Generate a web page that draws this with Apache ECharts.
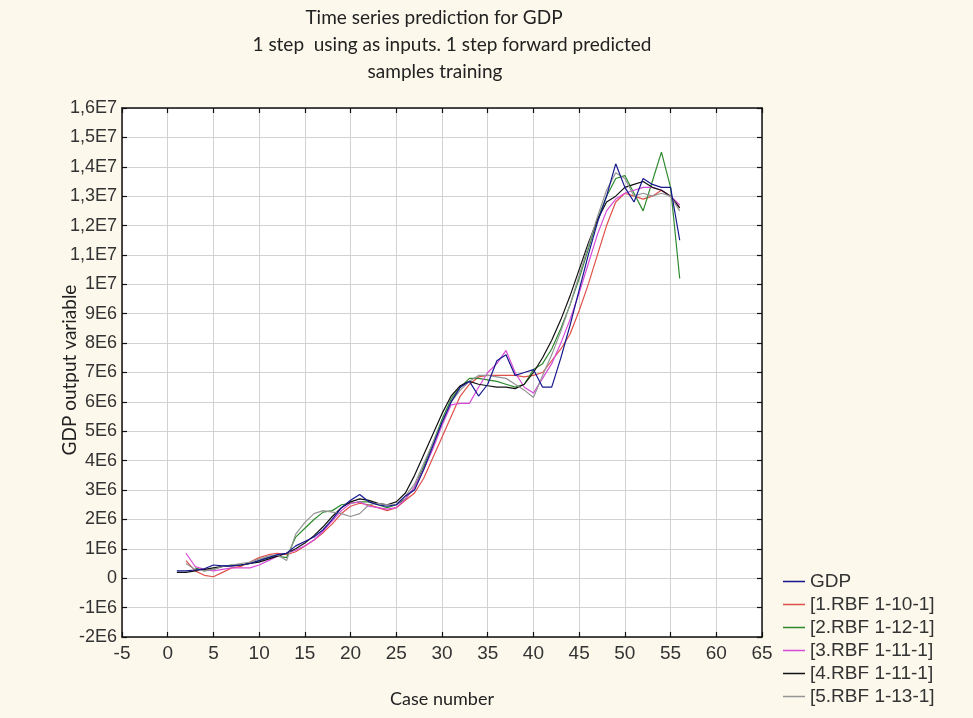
<!DOCTYPE html>
<html>
<head>
<meta charset="utf-8">
<script src="https://cdn.jsdelivr.net/npm/echarts@6/dist/echarts.min.js"></script>
<style>
  html, body { margin: 0; padding: 0; background: #fcf8ec; }
  #chart { width: 973px; height: 718px; }
</style>
</head>
<body>
<div id="chart"></div>
<script>
// Case numbers on the x axis
const cases = [1,2,3,4,5,6,7,8,9,10,11,12,13,14,15,16,17,18,19,20,21,22,23,24,25,26,27,28,
  29,30,31,32,33,34,35,36,37,38,39,40,41,42,43,44,45,46,47,48,49,50,51,52,53,54,55,56];

// Observed GDP and the five RBF network predictions (null = no prediction for that case)
const gdp = [0.25e6,0.25e6,0.28e6,0.32e6,0.45e6,0.42e6,0.42e6,0.45e6,0.5e6,0.6e6,0.7e6,0.8e6,0.85e6,1.1e6,
  1.25e6,1.4e6,1.65e6,2.0e6,2.4e6,2.65e6,2.85e6,2.6e6,2.5e6,2.45e6,2.5e6,2.8e6,3.0e6,3.7e6,
  4.5e6,5.3e6,6.0e6,6.5e6,6.7e6,6.2e6,6.6e6,7.4e6,7.6e6,6.9e6,7.0e6,7.1e6,6.5e6,6.5e6,
  7.5e6,8.6e6,9.8e6,11.0e6,12.1e6,13.0e6,14.1e6,13.3e6,12.8e6,13.6e6,13.4e6,13.3e6,13.3e6,11.5e6];
const rbf1 = [null,0.6e6,0.25e6,0.1e6,0.05e6,0.2e6,0.35e6,0.4e6,0.55e6,0.7e6,0.8e6,0.85e6,0.8e6,0.9e6,
  1.1e6,1.3e6,1.55e6,1.85e6,2.2e6,2.45e6,2.55e6,2.5e6,2.4e6,2.3e6,2.4e6,2.65e6,2.9e6,3.4e6,
  4.1e6,4.8e6,5.5e6,6.2e6,6.6e6,6.85e6,6.9e6,6.9e6,6.9e6,6.9e6,6.85e6,6.9e6,7.0e6,7.4e6,
  7.8e6,8.3e6,9.1e6,10.0e6,11.0e6,12.0e6,12.8e6,13.1e6,13.0e6,12.9e6,13.0e6,13.2e6,13.0e6,12.6e6];
const rbf2 = [null,null,0.35e6,0.25e6,0.3e6,0.4e6,0.45e6,0.45e6,0.5e6,0.6e6,0.7e6,0.75e6,0.7e6,1.4e6,
  1.7e6,2.0e6,2.25e6,2.3e6,2.5e6,2.55e6,2.6e6,2.6e6,2.5e6,2.4e6,2.5e6,2.7e6,3.1e6,3.8e6,
  4.6e6,5.4e6,6.1e6,6.5e6,6.8e6,6.8e6,6.75e6,6.7e6,6.6e6,6.5e6,6.6e6,7.1e6,7.3e6,7.8e6,
  8.5e6,9.3e6,10.2e6,11.2e6,12.2e6,13.0e6,13.6e6,13.7e6,13.1e6,12.5e6,13.5e6,14.5e6,13.3e6,10.2e6];
const rbf3 = [null,0.85e6,0.4e6,0.3e6,0.25e6,0.3e6,0.35e6,0.35e6,0.35e6,0.45e6,0.6e6,0.75e6,0.85e6,0.95e6,
  1.1e6,1.3e6,1.6e6,1.95e6,2.3e6,2.55e6,2.6e6,2.45e6,2.4e6,2.35e6,2.4e6,2.7e6,3.1e6,3.7e6,
  4.4e6,5.2e6,5.9e6,5.95e6,5.95e6,6.5e6,7.0e6,7.3e6,7.75e6,7.0e6,6.5e6,6.3e6,6.8e6,7.3e6,
  8.0e6,8.8e6,9.7e6,10.7e6,11.7e6,12.5e6,12.9e6,13.1e6,13.2e6,13.3e6,13.3e6,13.2e6,13.0e6,12.7e6];
const rbf4 = [0.2e6,0.2e6,0.25e6,0.3e6,0.35e6,0.4e6,0.42e6,0.45e6,0.5e6,0.55e6,0.65e6,0.75e6,0.85e6,1.0e6,
  1.2e6,1.45e6,1.75e6,2.1e6,2.4e6,2.6e6,2.7e6,2.65e6,2.55e6,2.5e6,2.6e6,2.9e6,3.5e6,4.2e6,
  4.9e6,5.6e6,6.2e6,6.55e6,6.7e6,6.6e6,6.55e6,6.5e6,6.5e6,6.45e6,6.6e6,7.0e6,7.5e6,8.1e6,
  8.8e6,9.6e6,10.5e6,11.4e6,12.2e6,12.8e6,13.0e6,13.3e6,13.4e6,13.5e6,13.3e6,13.2e6,13.0e6,12.6e6];
const rbf5 = [null,0.5e6,0.3e6,0.25e6,0.3e6,0.4e6,0.45e6,0.5e6,0.55e6,0.65e6,0.75e6,0.8e6,0.6e6,1.5e6,
  1.9e6,2.2e6,2.3e6,2.25e6,2.2e6,2.1e6,2.2e6,2.5e6,2.55e6,2.5e6,2.5e6,2.8e6,3.2e6,3.9e6,
  4.6e6,5.3e6,6.0e6,6.4e6,6.7e6,6.9e6,6.9e6,6.85e6,6.8e6,6.6e6,6.4e6,6.15e6,6.9e6,7.6e6,
  8.4e6,9.3e6,10.3e6,11.3e6,12.3e6,13.2e6,13.8e6,13.6e6,13.0e6,13.1e6,13.0e6,13.1e6,13.0e6,12.5e6];

const seriesNames = ['GDP', '[1.RBF 1-10-1]', '[2.RBF 1-12-1]', '[3.RBF 1-11-1]', '[4.RBF 1-11-1]', '[5.RBF 1-13-1]'];
const seriesColors = ['#16168e', '#e0504a', '#2f8a2f', '#d84ad8', '#111111', '#959595'];
const seriesValues = [gdp, rbf1, rbf2, rbf3, rbf4, rbf5];

// Axis scales and tick labels
const xMin = -5, xMax = 65, xStep = 5;
const yMin = -2e6, yMax = 1.6e7, yStep = 1e6;
const yTickLabels = ['-2E6','-1E6','0','1E6','2E6','3E6','4E6','5E6','6E6','7E6','8E6','9E6',
  '1E7','1,1E7','1,2E7','1,3E7','1,4E7','1,5E7','1,6E7'];

const titleLines = ['Time series prediction for GDP',
  '1 step  using as inputs. 1 step forward predicted',
  'samples training'];
const titleCenterX = [434, 452, 435];
const yAxisTitle = 'GDP output variable';

const labelFont = 'Liberation Sans, Arial, sans-serif';
const textFont = 'Lato, Noto Sans, sans-serif';

const chart = echarts.init(document.getElementById('chart'));

const series = seriesValues.map((vals, i) => ({
  name: seriesNames[i],
  type: 'line',
  data: cases.map((c, k) => vals[k] == null ? null : [c, vals[k]]).filter(d => d !== null),
  showSymbol: false,
  symbol: 'none',
  lineStyle: { width: 1.2, color: seriesColors[i] },
  itemStyle: { color: seriesColors[i] },
  animation: false,
  z: i === 0 ? 3 : 2
}));

// Top and right axes only close the frame and carry inward ticks
const frameAxis = {
  axisLine: { show: true, onZero: false, lineStyle: { color: '#111', width: 1.5 } },
  axisTick: { show: true, inside: true, length: 5, lineStyle: { color: '#111', width: 1.2 } },
  axisLabel: { show: false },
  splitLine: { show: false }
};

// Title lines and the rotated y-axis title sitting beside the short tick labels
const texts = titleLines.map((t, i) => ({
  type: 'text',
  x: titleCenterX[i],
  y: 18 + i * 27,
  style: { text: t, font: '19px ' + textFont, fill: '#222', align: 'center', verticalAlign: 'middle' }
}));
texts.push({
  type: 'text',
  x: 70,
  y: 370,
  rotation: Math.PI / 2,
  style: { text: yAxisTitle, font: '19px ' + textFont, fill: '#222', align: 'center', verticalAlign: 'middle' }
});

chart.setOption({
  backgroundColor: '#fcf8ec',
  animation: false,
  grid: { left: 122, top: 108, width: 640, height: 529, backgroundColor: '#ffffff', show: true, borderWidth: 0 },
  graphic: texts,
  legend: {
    orient: 'vertical',
    left: 778,
    top: 567,
    icon: 'rect',
    itemWidth: 22,
    itemHeight: 1.5,
    itemGap: 4,
    textStyle: { fontFamily: labelFont, fontSize: 19, color: '#333', lineHeight: 19 },
    data: seriesNames
  },
  xAxis: [{
    type: 'value', min: xMin, max: xMax, interval: xStep,
    name: 'Case number', nameLocation: 'middle', nameGap: 53,
    nameTextStyle: { fontFamily: textFont, fontSize: 18, color: '#222' },
    axisLine: { show: true, onZero: false, lineStyle: { color: '#111', width: 1.5 } },
    axisTick: { show: true, inside: true, length: 5, lineStyle: { color: '#111', width: 1.2 } },
    axisLabel: { fontFamily: labelFont, fontSize: 19, color: '#333', margin: 7 },
    splitLine: { show: true, lineStyle: { color: '#d2d2d2', width: 1 } }
  }, Object.assign({}, frameAxis, { type: 'value', position: 'top', min: xMin, max: xMax, interval: xStep })],
  yAxis: [{
    type: 'value', min: yMin, max: yMax, interval: yStep,
    axisLine: { show: true, onZero: false, lineStyle: { color: '#111', width: 1.5 } },
    axisTick: { show: true, inside: true, length: 5, lineStyle: { color: '#111', width: 1.2 } },
    axisLabel: {
      fontFamily: labelFont, fontSize: 18, color: '#333', margin: 5,
      formatter: v => yTickLabels[Math.round((v - yMin) / yStep)]
    },
    splitLine: { show: true, lineStyle: { color: '#d2d2d2', width: 1 } }
  }, Object.assign({}, frameAxis, { type: 'value', position: 'right', min: yMin, max: yMax, interval: yStep })],
  series: series
});
</script>
</body>
</html>
